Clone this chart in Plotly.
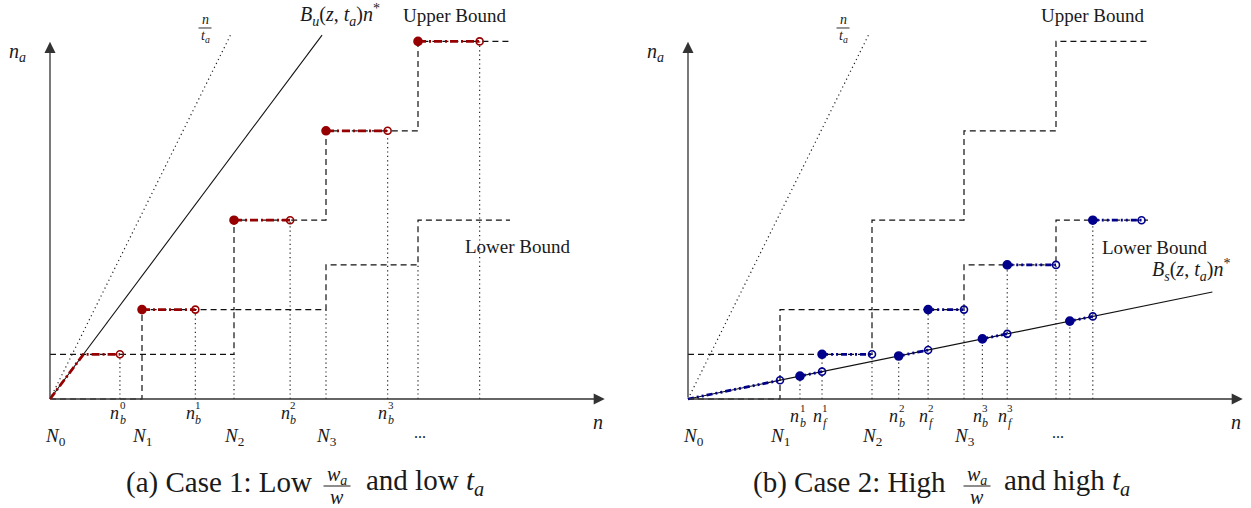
import plotly.graph_objects as go

# ---------------- data ----------------
N_marks = [0, 1, 2, 3, 4]            # N_0 .. N_4 along the n axis
stair_end = 5.0                      # right end of both bound staircases
upper_levels = [0, 2, 4, 6, 8]       # upper bound on [N_k, N_k+1)
lower_levels = [1, 1, 2, 3, 4]       # lower bound on [N_k, N_k+1)

ta_slope = 4.15                      # n / t_a
ta_x_end = 1.965
bu_slope = 2.753                     # B_u(z, t_a) n*
bu_x_end = 2.957
bs_slope = 0.42                      # B_s(z, t_a) n*
bs_x_end = 5.70

# case 1: red paths on the upper bound
c1_start = [None, 1, 2, 3, 4]        # first path starts where B_u meets level 1
c1_levels = [1, 2, 4, 6, 8]
c1_nb = [0.76, 1.58, 2.61, 3.67, 4.67]
c1_nb_labels = ["0", "1", "2", "3"]

# case 2: blue paths along B_s and on the lower bound
c2_nb = [1.217, 2.29, 3.20, 4.15]
c2_nf = [1.457, 2.61, 3.47, 4.40]
c2_levels = [1, 2, 3, 4]
c2_level_end = [2, 3, 4, 4.93]
c2_labels = ["1", "2", "3"]

N_labels = ["0", "1", "2", "3"]

# ---------------- styling / layout ----------------
W, H = 1251, 508
UX, UY = 92.0, 44.7                  # pixels per data unit
ORIG_Y = 399
ORIG_X = [50, 688]                   # pixel x of the origin in each panel

FONT = "Liberation Serif, DejaVu Serif, serif"
TXT = "#1a1a1a"
RED = "#960000"
BLUE = "#00008b"
DASH = "6px,4px"
DOT = "1.2px,3.2px"
RED_DASH = "8px,3px,2px,3px"
BLUE_DASH = "6px,3px,2px,3px,2px,3px"
PATH_W = 2.8

fig = go.Figure()


def line(xs, ys, xa, ya, color="#111", width=1.2, dash=None, shape="linear"):
    fig.add_trace(go.Scatter(
        x=xs, y=ys, xaxis=xa, yaxis=ya, mode="lines",
        line=dict(color=color, width=width, dash=dash, shape=shape),
        hoverinfo="skip", showlegend=False))


def dots(xs, ys, xa, ya, color, filled):
    fig.add_trace(go.Scatter(
        x=xs, y=ys, xaxis=xa, yaxis=ya, mode="markers",
        marker=dict(size=8 if filled else 7,
                    symbol="circle" if filled else "circle-open",
                    color=color, line=dict(color=color, width=1.6)),
        hoverinfo="skip", showlegend=False))


def text(x, y, s, xa, ya, size=18, xshift=0, yshift=0, xanchor="center"):
    fig.add_annotation(x=x, y=y, xref=xa, yref=ya, text=s, showarrow=False,
                       xshift=xshift, yshift=yshift, xanchor=xanchor,
                       yanchor="middle", font=dict(family=FONT, size=size, color=TXT))


def nlabel(x, xa, ya, sub, sup, base_shift):
    # n with stacked sub- and superscript
    text(x, 0, "<i>n</i>", xa, ya, size=18, xshift=-5, yshift=base_shift)
    text(x, 0, sup, xa, ya, size=11, xshift=3, yshift=base_shift + 8)
    text(x, 0, "<i>%s</i>" % sub, xa, ya, size=12, xshift=3, yshift=base_shift - 7)


def frac_bar(xc, yc, half, xref, yref, width=0.9):
    fig.add_shape(type="line", xref=xref, yref=yref,
                  xsizemode="pixel", xanchor=xc, x0=-half, x1=half,
                  ysizemode="pixel", yanchor=yc, y0=0, y1=0,
                  line=dict(color=TXT, width=width))


def axes_arrows(xa, ya):
    for (x, y) in [(6.03, 0), (0, 7.99)]:
        fig.add_annotation(x=x, y=y, ax=0, ay=0, xref=xa, yref=ya,
                           axref=xa, ayref=ya, text="", showarrow=True,
                           arrowhead=2, arrowsize=1.7, arrowwidth=1.3,
                           arrowcolor="#333", standoff=0)


def common(xa, ya, upper_label_x=4.40):
    xs = N_marks + [stair_end]
    line(xs, upper_levels + [upper_levels[-1]], xa, ya, dash=DASH, shape="hv")
    line(xs, lower_levels + [lower_levels[-1]], xa, ya, dash=DASH, shape="hv")
    # n / t_a
    line([0, ta_x_end], [0, ta_slope * ta_x_end], xa, ya, color="#222",
         width=1.2, dash=DOT)
    axes_arrows(xa, ya)
    text(-0.35, 7.76, "<i>n</i><sub><i>a</i></sub>", xa, ya, size=20)
    text(5.96, -0.52, "<i>n</i>", xa, ya, size=20)
    # fraction n / t_a
    text(1.685, 8.30, "<i>n</i>", xa, ya, size=14, yshift=8)
    text(1.685, 8.30, "<i>t</i><sub><i>a</i></sub>", xa, ya, size=14, yshift=-9)
    frac_bar(1.685, 8.30, 6.5, xa, ya)
    text(upper_label_x, 8.59, "Upper Bound", xa, ya, size=19)
    for k, lab in enumerate(N_labels):
        text(N_marks[k], -0.85, "<i>N</i><sub>%s</sub>" % lab, xa, ya, size=19,
             xshift=5 if k == 0 else 0)
    text(4.02, -0.76, "...", xa, ya, size=16)


# ================= panel (a) =================
xa, ya = "x", "y"
common(xa, ya)
# dotted drop lines
vx, vy = [], []
for k in range(2, 5):
    vx += [N_marks[k], N_marks[k], None]
    vy += [0, lower_levels[k - 1], None]
for nb, lev in zip(c1_nb, c1_levels):
    vx += [nb, nb, None]
    vy += [0, lev, None]
line(vx, vy, xa, ya, color="#222", width=1.2, dash=DOT)
# B_u line
line([0, bu_x_end], [0, bu_slope * bu_x_end], xa, ya, color="#111", width=1.1)
# red paths
x_hit = c1_levels[0] / bu_slope
line([0, x_hit, c1_nb[0]], [0, c1_levels[0], c1_levels[0]], xa, ya,
     color=RED, width=PATH_W, dash=RED_DASH)
for s, nb, lev in zip(c1_start[1:], c1_nb[1:], c1_levels[1:]):
    line([s, nb], [lev, lev], xa, ya, color=RED, width=PATH_W, dash=RED_DASH)
dots(c1_start[1:], c1_levels[1:], xa, ya, RED, True)
dots(c1_nb, c1_levels, xa, ya, RED, False)
text(3.15, 8.59, "<i>B</i><sub><i>u</i></sub>(<i>z</i>, <i>t</i><sub><i>a</i></sub>)<i>n</i><sup>*</sup>",
     xa, ya, size=20)
text(5.09, 3.42, "Lower Bound", xa, ya, size=19)
for nb, lab in zip(c1_nb, c1_nb_labels):
    nlabel(nb, xa, ya, "b", lab, -14)

# ================= panel (b) =================
xa, ya = "x2", "y2"
common(xa, ya)
vx, vy = [], []
for k in range(2, 5):
    vx += [N_marks[k], N_marks[k], None]
    vy += [0, lower_levels[k - 1], None]
for nb in c2_nb:
    vx += [nb, nb, None]
    vy += [0, bs_slope * nb, None]
for nf, lev in zip(c2_nf, c2_levels):
    vx += [nf, nf, None]
    vy += [0, lev, None]
line(vx, vy, xa, ya, color="#222", width=1.2, dash=DOT)
# B_s line
line([0, bs_x_end], [0, bs_slope * bs_x_end], xa, ya, color="#111", width=1.1)
# blue paths along B_s
line([0, N_marks[1]], [0, bs_slope * N_marks[1]], xa, ya, color=BLUE, width=PATH_W, dash=BLUE_DASH)
for nb, nf in zip(c2_nb, c2_nf):
    line([nb, nf], [bs_slope * nb, bs_slope * nf], xa, ya, color=BLUE, width=PATH_W, dash=BLUE_DASH)
# blue paths on the lower bound
for nf, lev, e in zip(c2_nf, c2_levels, c2_level_end):
    line([nf, e], [lev, lev], xa, ya, color=BLUE, width=PATH_W, dash=BLUE_DASH)
dots(c2_nb, [bs_slope * v for v in c2_nb], xa, ya, BLUE, True)
dots(c2_nf, c2_levels, xa, ya, BLUE, True)
dots([N_marks[1]] + c2_nf, [bs_slope * v for v in [N_marks[1]] + c2_nf], xa, ya, BLUE, False)
dots(c2_level_end, c2_levels, xa, ya, BLUE, False)
text(5.08, 3.40, "Lower Bound", xa, ya, size=19)
text(5.47, 2.89, "<i>B</i><sub><i>s</i></sub>(<i>z</i>, <i>t</i><sub><i>a</i></sub>)<i>n</i><sup>*</sup>",
     xa, ya, size=20)
for nb, nf, lab in zip(c2_nb, c2_nf, c2_labels):
    nlabel(nb, xa, ya, "b", lab, -17)
    nlabel(nf, xa, ya, "f", lab, -17)

# ================= captions =================
CAP = 29
cap_y = 1 - 482 / H
bar_y = 1 - 486 / H


def caption(left, right, x_left_end, x_frac, x_right_start):
    fig.add_annotation(x=x_left_end / W, y=cap_y, xref="paper", yref="paper",
                       text=left, showarrow=False, xanchor="right", yanchor="middle",
                       font=dict(family=FONT, size=CAP, color=TXT))
    fig.add_annotation(x=x_right_start / W, y=cap_y, xref="paper", yref="paper",
                       text=right, showarrow=False, xanchor="left", yanchor="middle",
                       font=dict(family=FONT, size=CAP, color=TXT))
    fig.add_annotation(x=x_frac / W, y=bar_y, xref="paper", yref="paper",
                       text="<i>w</i><sub><i>a</i></sub>", showarrow=False,
                       xanchor="center", yanchor="middle",
                       yshift=11, font=dict(family=FONT, size=20, color=TXT))
    fig.add_annotation(x=x_frac / W, y=bar_y, xref="paper", yref="paper",
                       text="<i>w</i>", showarrow=False,
                       xanchor="center", yanchor="middle",
                       yshift=-11, font=dict(family=FONT, size=20, color=TXT))
    frac_bar(x_frac / W, bar_y, 13.5, "paper", "paper", width=1)


caption("(a) Case 1: Low", "and low <i>t</i><sub><i>a</i></sub>", 314, 337, 364)
caption("(b) Case 2: High", "and high <i>t</i><sub><i>a</i></sub>", 948, 977, 1002)

# ================= axes (hidden, used as scales) =================
half = W / 2
ax_common = dict(visible=False, showgrid=False, zeroline=False, fixedrange=True)
fig.update_layout(
    width=W, height=H, margin=dict(l=0, r=0, t=0, b=0),
    paper_bgcolor="white", plot_bgcolor="white", showlegend=False,
    xaxis=dict(domain=[0, 0.5], range=[(0 - ORIG_X[0]) / UX, (half - ORIG_X[0]) / UX], **ax_common),
    yaxis=dict(domain=[0, 1], range=[(ORIG_Y - H) / UY, ORIG_Y / UY], anchor="x", **ax_common),
    xaxis2=dict(domain=[0.5, 1], range=[(half - ORIG_X[1]) / UX, (W - ORIG_X[1]) / UX], anchor="y2", **ax_common),
    yaxis2=dict(domain=[0, 1], range=[(ORIG_Y - H) / UY, ORIG_Y / UY], anchor="x2", **ax_common),
)

fig.write_html("out.html")
